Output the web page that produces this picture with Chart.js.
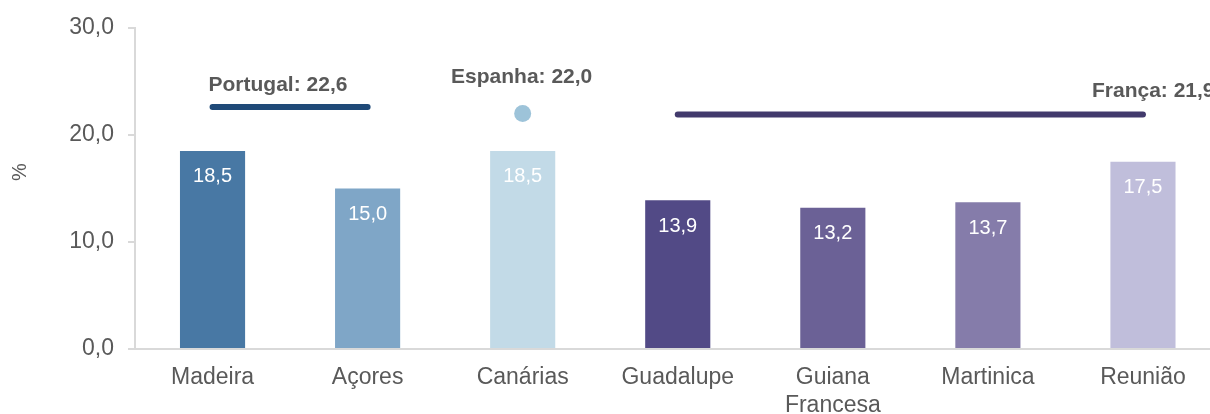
<!DOCTYPE html>
<html>
<head>
<meta charset="utf-8">
<script src="https://cdn.jsdelivr.net/npm/chart.js@4/dist/chart.umd.min.js"></script>
<style>
  html, body { margin: 0; padding: 0; background: #ffffff; overflow: hidden; }
  #wrap { position: relative; width: 1229px; height: 414px; }
</style>
</head>
<body>
<div id="wrap"><canvas id="c"></canvas></div>
<script>
const categories = ['Madeira', 'Açores', 'Canárias', 'Guadalupe', ['Guiana', 'Francesa'], 'Martinica', 'Reunião'];
const values = [18.5, 15.0, 18.5, 13.9, 13.2, 13.7, 17.5];
const barColors = ['#4878a4', '#7fa6c7', '#c2dae7', '#524a86', '#6b6196', '#857caa', '#c0bedb'];
const yTicks = [0, 10, 20, 30];
const yAxisTitle = '%';

const portugalValue = 22.6;
const espanhaValue = 22.0;
const francaValue = 21.9;
const portugalSeries = [portugalValue, portugalValue, null, null, null, null, null];
const espanhaSeries = [null, null, espanhaValue, null, null, null, null];
const francaSeries = [null, null, null, francaValue, francaValue, francaValue, francaValue];

const fmt = v => v.toFixed(1).replace('.', ',');
const FONT = "'Liberation Sans', Arial, sans-serif";

const labelPlugin = {
  id: 'labels',
  afterDatasetsDraw(chart) {
    const ctx = chart.ctx;
    const x = chart.scales.x, y = chart.scales.y;
    ctx.save();
    // values inside bars
    ctx.font = '20px ' + FONT;
    ctx.fillStyle = '#ffffff';
    ctx.textAlign = 'center';
    ctx.textBaseline = 'middle';
    const meta = chart.getDatasetMeta(0);
    meta.data.forEach((bar, i) => {
      ctx.fillText(fmt(values[i]), bar.x, y.getPixelForValue(values[i]) + 26);
    });
    // reference labels
    ctx.font = 'bold 21px ' + FONT;
    ctx.fillStyle = '#595959';
    ctx.textAlign = 'left';
    ctx.fillText('Portugal: ' + fmt(portugalValue), x.getPixelForValue(0) - 4, y.getPixelForValue(portugalValue) - 22);
    ctx.textAlign = 'center';
    ctx.fillText('Espanha: ' + fmt(espanhaValue), x.getPixelForValue(2) - 1, y.getPixelForValue(espanhaValue) - 36);
    ctx.textAlign = 'left';
    ctx.fillText('França: ' + fmt(francaValue), x.getPixelForValue(6) - 51, y.getPixelForValue(francaValue) - 23);
    // y axis title
    ctx.font = '20px ' + FONT;
    ctx.textAlign = 'center';
    ctx.translate(20, 172);
    ctx.rotate(-Math.PI / 2);
    ctx.fillText(yAxisTitle, 0, 0);
    ctx.restore();
  }
};

new Chart(document.getElementById('c'), {
  type: 'bar',
  data: {
    labels: categories,
    datasets: [
      {
        type: 'bar',
        data: values,
        backgroundColor: barColors,
        barPercentage: 0.42,
        categoryPercentage: 1.0,
        order: 2
      },
      {
        type: 'line',
        data: portugalSeries,
        borderColor: '#1f4a78',
        borderWidth: 6,
        borderCapStyle: 'round',
        pointRadius: 0,
        spanGaps: false,
        order: 1
      },
      {
        type: 'line',
        data: espanhaSeries,
        showLine: false,
        pointRadius: 8.5,
        pointBackgroundColor: '#9dc3d9',
        pointBorderWidth: 0,
        order: 1
      },
      {
        type: 'line',
        data: francaSeries,
        borderColor: '#423a6c',
        borderWidth: 6,
        borderCapStyle: 'round',
        pointRadius: 0,
        spanGaps: false,
        order: 1
      }
    ]
  },
  options: {
    responsive: true,
    maintainAspectRatio: false,
    animation: false,
    layout: { padding: { top: 26, right: 4, bottom: 0, left: 0 } },
    plugins: { legend: { display: false }, tooltip: { enabled: false } },
    scales: {
      x: {
        grid: { display: false, drawTicks: false },
        border: { display: true, color: '#d9d9d9', width: 2 },
        ticks: {
          color: '#595959',
          font: { family: FONT, size: 23 },
          padding: 15,
          maxRotation: 0,
          autoSkip: false
        },
        afterFit(scale) { scale.height = 65; }
      },
      y: {
        min: 0,
        max: 30,
        afterBuildTicks(scale) { scale.ticks = yTicks.map(v => ({ value: v })); },
        grid: { drawOnChartArea: false, drawTicks: true, tickLength: 7, color: '#d9d9d9', lineWidth: 2 },
        border: { display: true, color: '#d9d9d9', width: 2 },
        ticks: {
          color: '#595959',
          font: { family: FONT, size: 23 },
          padding: 14,
          callback: v => fmt(v)
        },
        afterFit(scale) { scale.width = 135; }
      }
    }
  },
  plugins: [labelPlugin]
});
</script>
</body>
</html>
